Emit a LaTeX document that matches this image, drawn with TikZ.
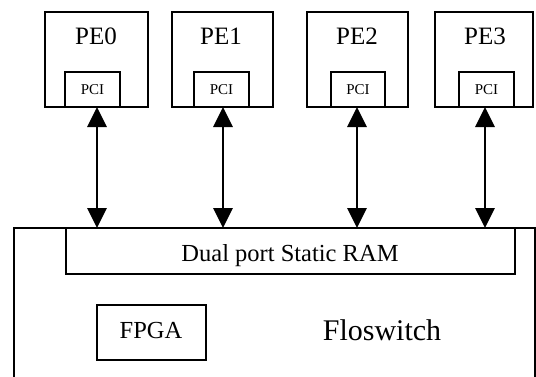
\documentclass[tikz,border=0pt]{standalone}
\usepackage{fontspec}
\setmainfont{Liberation Serif}
\usetikzlibrary{arrows.meta}
\begin{document}
\begin{tikzpicture}[x=1bp,y=-1bp,
  box/.style={draw, line width=2bp, inner sep=0pt, outer sep=0pt, anchor=north west},
  lbl/.style={inner sep=0pt, anchor=base},
  pefont/.style={font=\fontsize{25bp}{26bp}\selectfont},
  ramfont/.style={font=\fontsize{24.5bp}{26bp}\selectfont},
  pcifont/.style={font=\fontsize{15bp}{16bp}\selectfont},
  biarrow/.style={line width=2.8bp, {Triangle[length=20bp,width=19bp]}-{Triangle[length=20bp,width=19bp]}}
]
\useasboundingbox (0,0) rectangle (536,376);
% processing elements
\node[box, minimum width=103bp, minimum height=95bp] (pe0) at (45,12) {};
\node[box, minimum width=101bp, minimum height=95bp] (pe1) at (172,12) {};
\node[box, minimum width=101bp, minimum height=95bp] (pe2) at (307,12) {};
\node[box, minimum width=98bp, minimum height=95bp] (pe3) at (435,12) {};
\node[box, minimum width=55bp, minimum height=35bp] (pci0) at (65,72) {};
\node[box, minimum width=55bp, minimum height=35bp] (pci1) at (194,72) {};
\node[box, minimum width=54bp, minimum height=35bp] (pci2) at (331,72) {};
\node[box, minimum width=55bp, minimum height=35bp] (pci3) at (459,72) {};
\node[lbl, pefont] (pe0t) at (96,44) {PE0};
\node[lbl, pefont] (pe1t) at (221,44) {PE1};
\node[lbl, pefont] (pe2t) at (357,44) {PE2};
\node[lbl, pefont] (pe3t) at (485,44) {PE3};
\node[pcifont, inner sep=0pt] (pci0t) at (pci0.center) {PCI};
\node[pcifont, inner sep=0pt] (pci1t) at (pci1.center) {PCI};
\node[pcifont, inner sep=0pt] (pci2t) at (pci2.center) {PCI};
\node[pcifont, inner sep=0pt] (pci3t) at (pci3.center) {PCI};
% Floswitch board
\node[box, minimum width=521bp, minimum height=160bp] (fs) at (14,228) {};
\node[box, minimum width=449bp, minimum height=46bp] (ram) at (66,228) {};
\node[box, minimum width=109bp, minimum height=55bp] (fpga) at (97,305) {};
\node[lbl, ramfont] (ramt) at (290,261) {Dual port Static RAM};
\node[lbl, ramfont] (fpgat) at (151,338) {FPGA};
\node[lbl, font=\fontsize{30bp}{32bp}\selectfont] (fst) at (382,340) {Floswitch};
% links
\coordinate (a0) at (97,0);
\coordinate (a1) at (223,0);
\coordinate (a2) at (357,0);
\coordinate (a3) at (485,0);
\draw[biarrow] (pci0.south -| a0) -- (ram.north -| a0);
\draw[biarrow] (pci1.south -| a1) -- (ram.north -| a1);
\draw[biarrow] (pci2.south -| a2) -- (ram.north -| a2);
\draw[biarrow] (pci3.south -| a3) -- (ram.north -| a3);
\end{tikzpicture}
\end{document}
